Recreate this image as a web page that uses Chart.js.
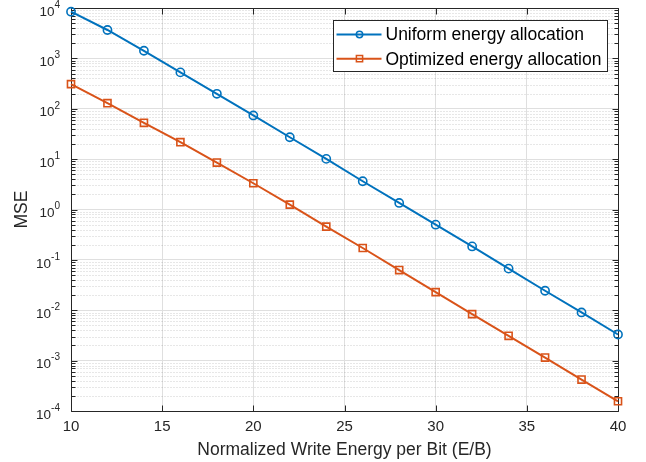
<!DOCTYPE html>
<html>
<head>
<meta charset="utf-8">
<script src="https://cdn.jsdelivr.net/npm/chart.js@4/dist/chart.umd.min.js"></script>
<style>
html,body{margin:0;padding:0;background:#ffffff;}
#wrap{width:646px;height:462px;}
</style>
</head>
<body>
<div id="wrap"><canvas id="c" width="646" height="462"></canvas></div>
<script>
const energyPerBit = [10, 12, 14, 16, 18, 20, 22, 24, 26, 28, 30, 32, 34, 36, 38, 40];
const uniformMSE = [8440, 3660, 1416, 527, 198, 73.6, 27.2, 10.1, 3.64, 1.35, 0.50, 0.185, 0.067, 0.0244, 0.00904, 0.0033];
const optimizedMSE = [308, 129, 52.5, 21.7, 8.55, 3.32, 1.25, 0.457, 0.172, 0.0627, 0.0229, 0.00838, 0.00311, 0.00115, 0.00042, 0.000156];
const seriesLabels = ['Uniform energy allocation', 'Optimized energy allocation'];
const xTickValues = [10, 15, 20, 25, 30, 35, 40];
const yTickExponents = [-4, -3, -2, -1, 0, 1, 2, 3, 4];
const xTitle = 'Normalized Write Energy per Bit (E/B)';
const yTitle = 'MSE';

const FONT = "'Liberation Sans', Arial, Helvetica, sans-serif";
const AXIS = '#262626';
const BLUE = '#0072BD';
const ORANGE = '#D95319';

function minorValues() {
  const out = [];
  for (let e = yTickExponents[0]; e < yTickExponents[yTickExponents.length - 1]; e++) {
    for (let m = 2; m <= 9; m++) out.push(m * Math.pow(10, e));
  }
  return out;
}

const framePlugin = {
  id: 'frame',
  beforeDatasetsDraw(chart) {
    const {ctx, chartArea: a, scales: {x, y}} = chart;
    const L = Math.round(a.left) + 0.5, R = Math.round(a.right) + 0.5;
    const T = Math.round(a.top) + 0.5, B = Math.round(a.bottom) + 0.5;
    const minors = minorValues();
    ctx.save();
    // minor dotted grid
    ctx.strokeStyle = 'rgba(38,38,38,0.22)';
    ctx.lineWidth = 1;
    ctx.setLineDash([1, 2]);
    ctx.beginPath();
    minors.forEach(v => {
      const py = Math.round(y.getPixelForValue(v)) + 0.5;
      ctx.moveTo(L, py); ctx.lineTo(R, py);
    });
    ctx.stroke();
    ctx.setLineDash([]);
    // box
    ctx.strokeStyle = AXIS;
    ctx.lineWidth = 1;
    ctx.beginPath();
    ctx.rect(L, T, R - L, B - T);
    // x ticks (inward, bottom & top)
    x.ticks.forEach(t => {
      const px = Math.round(x.getPixelForValue(t.value)) + 0.5;
      ctx.moveTo(px, B); ctx.lineTo(px, B - 6);
      ctx.moveTo(px, T); ctx.lineTo(px, T + 6);
    });
    // y major ticks
    y.ticks.forEach(t => {
      const py = Math.round(y.getPixelForValue(t.value)) + 0.5;
      ctx.moveTo(L, py); ctx.lineTo(L + 6, py);
      ctx.moveTo(R, py); ctx.lineTo(R - 6, py);
    });
    // y minor ticks
    minors.forEach(v => {
      const py = Math.round(y.getPixelForValue(v)) + 0.5;
      ctx.moveTo(L, py); ctx.lineTo(L + 4, py);
      ctx.moveTo(R, py); ctx.lineTo(R - 4, py);
    });
    ctx.stroke();
    ctx.restore();
  },
  afterDraw(chart) {
    const {ctx, chartArea: a, scales: {y}} = chart;
    ctx.save();
    // y tick labels: 10 with superscript exponent
    const baseFont = '13.5px ' + FONT;
    const expFont = '10px ' + FONT;
    const rightX = a.left - 11;
    ctx.fillStyle = AXIS;
    ctx.textBaseline = 'middle';
    ctx.textAlign = 'left';
    y.ticks.forEach(t => {
      const e = Math.round(Math.log10(t.value));
      const py = y.getPixelForValue(t.value);
      ctx.font = expFont;
      const ew = ctx.measureText(String(e)).width;
      ctx.font = baseFont;
      const bw = ctx.measureText('10').width;
      ctx.fillText('10', rightX - ew - bw, py + 4);
      ctx.font = expFont;
      ctx.fillText(String(e), rightX - ew, py - 3);
    });

    // legend
    const lf = '17.5px ' + FONT;
    ctx.font = lf;
    let maxW = 0;
    chart.data.datasets.forEach(ds => { maxW = Math.max(maxW, ctx.measureText(ds.label).width); });
    const boxW = 52 + maxW + 6;
    const boxH = 51;
    const boxR = Math.round(a.right - 11.5) + 0.5;
    const boxL = boxR - Math.round(boxW);
    const boxT = Math.round(a.top + 11.5) + 0.5;
    ctx.fillStyle = '#ffffff';
    ctx.fillRect(boxL, boxT, boxR - boxL, boxH);
    ctx.strokeStyle = AXIS;
    ctx.lineWidth = 1;
    ctx.strokeRect(boxL, boxT, boxR - boxL, boxH);
    chart.data.datasets.forEach((ds, i) => {
      const ry = boxT + 14 + i * 24.2;
      ctx.strokeStyle = ds.borderColor;
      ctx.lineWidth = ds.borderWidth;
      ctx.beginPath();
      ctx.moveTo(boxL + 3, ry); ctx.lineTo(boxL + 48, ry);
      ctx.stroke();
      ctx.fillStyle = 'rgba(0,0,0,0)';
      ctx.lineWidth = 1.5;
      Chart.helpers.drawPoint(ctx, {pointStyle: ds.pointStyle, radius: ds.pointStyle === 'rect' ? 4.4 : 3.2, borderWidth: 1.5, rotation: 0}, boxL + 26, ry);
      ctx.fillStyle = '#000000';
      ctx.font = lf;
      ctx.textAlign = 'left';
      ctx.textBaseline = 'middle';
      ctx.fillText(ds.label, boxL + 52, ry + 1);
    });
    ctx.restore();
  }
};

const ds = (label, vals, color, style, r) => ({
  label: label,
  data: energyPerBit.map((e, i) => ({x: e, y: vals[i]})),
  borderColor: color,
  backgroundColor: color,
  borderWidth: 2,
  pointStyle: style,
  pointRadius: r,
  pointHoverRadius: r,
  pointBorderWidth: 1.6,
  pointBorderColor: color,
  pointBackgroundColor: 'rgba(0,0,0,0)',
  tension: 0,
  clip: false,
  fill: false
});

new Chart(document.getElementById('c'), {
  type: 'line',
  data: {
    datasets: [
      ds(seriesLabels[0], uniformMSE, BLUE, 'circle', 4.1),
      ds(seriesLabels[1], optimizedMSE, ORANGE, 'rect', 5.0)
    ]
  },
  options: {
    responsive: false,
    animation: false,
    devicePixelRatio: 1,
    layout: {padding: {top: 8, right: 28, left: 0, bottom: 0}},
    plugins: {legend: {display: false}, tooltip: {enabled: false}},
    scales: {
      x: {
        type: 'linear',
        min: 10, max: 40,
        afterBuildTicks: s => { s.ticks = xTickValues.map(v => ({value: v})); },
        afterFit: s => { s.height = 51; },
        grid: {color: '#dfdfdf', lineWidth: 1, drawTicks: false},
        border: {display: false},
        ticks: {color: AXIS, font: {family: FONT, size: 15}, padding: 7, maxRotation: 0, autoSkip: false},
        title: {display: true, text: xTitle, color: AXIS, font: {family: FONT, size: 17.5}, padding: {top: 0, bottom: 1.5}}
      },
      y: {
        type: 'logarithmic',
        min: 1e-4, max: 1e4,
        afterBuildTicks: s => { s.ticks = yTickExponents.map(e => ({value: Math.pow(10, e)})); },
        afterFit: s => { s.width = 71; },
        grid: {color: '#dfdfdf', lineWidth: 1, drawTicks: false},
        border: {display: false},
        ticks: {display: false},
        title: {display: true, text: yTitle, color: AXIS, font: {family: FONT, size: 17.5}, padding: {top: 11.5, bottom: 0}}
      }
    }
  },
  plugins: [framePlugin]
});
</script>
</body>
</html>
